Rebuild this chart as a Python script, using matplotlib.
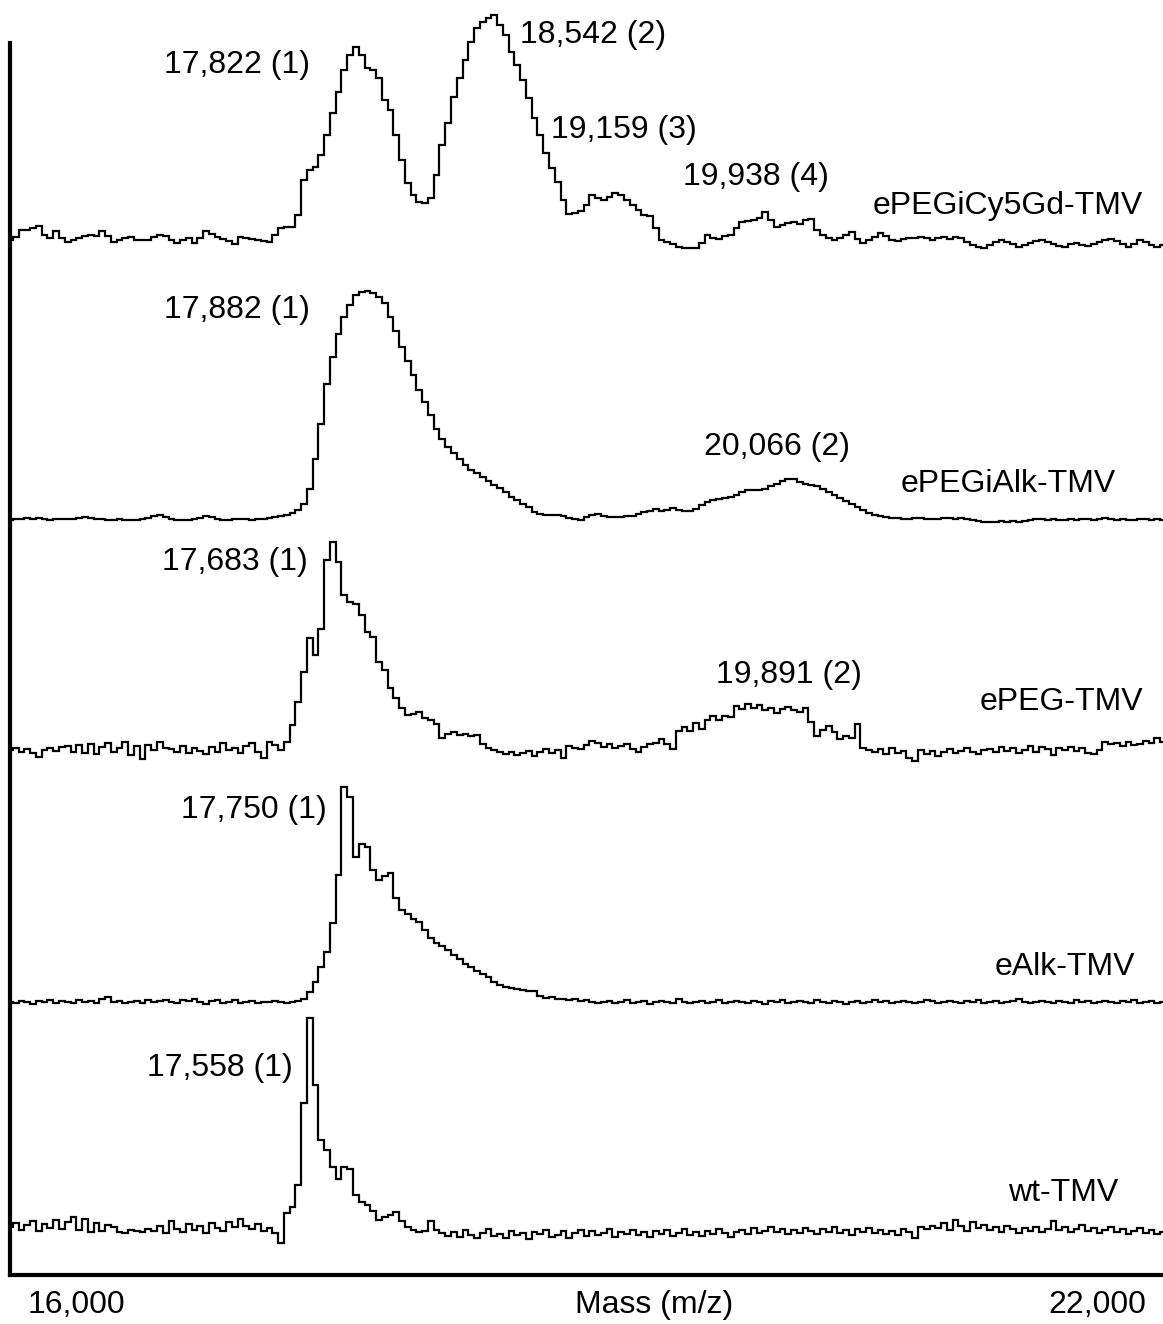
import numpy as np
import matplotlib
matplotlib.use("Agg")
import matplotlib.pyplot as plt

# ---------------- data ----------------
mass_start = 16000
mass_step = 30          # Da between samples
mass_end = 22000

names = ["ePEGiCy5Gd-TMV", "ePEGiAlk-TMV", "ePEG-TMV", "eAlk-TMV", "wt-TMV"]

cy5gd = [0, 3, 10, 10, 12, 14, 5, 2, 9, 2,
         -2, 0, 2, 4, 5, 4, 9, 4, -2, 0,
         2, 3, 0, 0, 0, 3, 5, 4, 0, -3,
         0, 2, -3, 2, 9, 6, 3, 1, -1, -4,
         3, 2, 1, 0, -1, -2, 5, 12, 13, 13,
         25, 60, 70, 73, 85, 105, 127, 148, 170, 185,
         193, 185, 172, 170, 162, 140, 130, 105, 80, 57,
         45, 38, 37, 42, 65, 95, 117, 143, 162, 180,
         198, 212, 218, 222, 225, 215, 205, 188, 175, 160,
         142, 122, 105, 87, 72, 58, 40, 26, 27, 29,
         35, 45, 42, 40, 43, 47, 45, 40, 35, 30,
         25, 24, 12, 0, -2, -4, -7, -8, -8, -8,
         -3, 5, 2, 1, 4, 5, 12, 18, 19, 20,
         22, 28, 20, 13, 15, 17, 18, 16, 20, 21,
         10, 5, 2, 0, 2, 5, 8, 1, -3, 0,
         3, 7, 4, 0, -1, 1, 2, 2, 3, 2,
         0, 2, 3, 1, 3, 2, -2, -5, -7, -8,
         -5, -2, 0, -2, -4, -7, -5, -3, -1, 0,
         -2, -4, -6, -7, -4, -3, -5, -6, -4, -2,
         0, 1, -1, -4, -7, -4, 0, -2, -5, -7,
         -5]

pegialk = [-1, 0, 0, 1, 0, 1, 0, -1, 0, 0,
           0, 0, 1, 2, 1, 0, 0, -1, -1, 0,
           -1, -1, -1, 0, 1, 3, 4, 2, 0, -1,
           -1, -1, 0, 1, 3, 2, 0, -1, -1, 0,
           0, 0, -1, 0, 0, 1, 2, 3, 4, 6,
           9, 15, 30, 60, 95, 135, 162, 185, 202, 214,
           224, 227, 228, 226, 222, 216, 202, 188, 172, 158,
           144, 129, 117, 104, 90, 80, 72, 66, 60, 54,
           49, 46, 42, 38, 34, 31, 27, 22, 19, 15,
           12, 7, 5, 4, 4, 4, 3, 1, 0, -1,
           2, 4, 5, 3, 2, 2, 2, 3, 3, 5,
           7, 8, 10, 8, 9, 11, 9, 8, 8, 10,
           14, 17, 19, 20, 21, 22, 24, 27, 29, 29,
           29, 30, 33, 35, 38, 40, 40, 37, 35, 34,
           33, 30, 27, 24, 21, 18, 15, 12, 9, 6,
           4, 3, 2, 1, 1, 0, 0, 1, 1, 0,
           0, 0, 1, 1, 0, 1, 0, -1, -2, -3,
           -3, -3, -2, -3, -2, -3, -2, -1, 0, 0,
           -1, 0, -1, -1, 0, -1, 0, 0, -1, 0,
           1, 0, -1, 0, -1, -1, 0, 0, -1, 0,
           -1]

peg = [0, 2, -2, 1, -3, -7, 0, 2, -1, 3,
       4, -2, 5, -3, 6, -4, 3, 7, -2, 2,
       8, -5, 4, -9, 5, 0, 8, 2, 1, -2,
       4, -3, 2, -1, -4, 3, -2, 7, 0, 2,
       -3, 4, 7, -2, -8, 8, 5, 0, 8, 25,
       48, 78, 112, 95, 121, 190, 208, 188, 155, 148,
       146, 135, 118, 113, 88, 80, 62, 52, 42, 35,
       36, 38, 32, 30, 26, 12, 16, 18, 15, 16,
       14, 15, 6, 2, 0, -2, -4, -2, -5, -3,
       -1, -6, -2, 1, -3, 0, -8, 4, 2, 1,
       5, 9, 7, 3, 6, 2, 4, 6, 1, -2,
       3, 6, 7, 11, 6, 1, 19, 23, 19, 27,
       21, 30, 34, 30, 34, 33, 44, 41, 46, 42,
       45, 40, 42, 37, 41, 43, 40, 38, 42, 28,
       14, 20, 24, 18, 11, 14, 12, 26, 2, 0,
       -2, 1, -4, 2, -3, -1, -8, -11, 0, -4,
       -1, -6, -2, 1, -3, -1, 2, -2, -4, 0,
       1, -2, 3, -1, 2, -3, 0, 4, -2, 3,
       1, -5, 2, 0, 3, -1, 2, -3, -4, 0,
       8, 6, 7, 4, 8, 5, 6, 9, 7, 12,
       8]

alk = [0, -1, 1, 0, -2, 1, 0, 2, -1, 1,
       0, -1, 2, 0, 1, -1, 3, 5, 0, 1,
       -1, 0, 1, -1, 2, 0, 1, 2, 0, -1,
       2, 1, 3, 0, -2, 1, 2, -1, 0, 2,
       -1, 0, 1, -1, 0, 0, 1, 0, -1, 0,
       1, 3,
       10, 20, 35, 50, 79, 127, 215, 205, 145, 158,
       155, 132, 122, 126, 129, 104, 92, 88, 83, 80,
       72, 64, 59, 56, 52, 47, 43, 38, 35, 31,
       28, 25, 20, 17, 15, 14, 13, 12, 11, 11,
       6, 4, 5, 3, 3, 2, 3, 1, 2, 0,
       -1, 0, 1, -1, 0, 2, -1, 0, 1, -2,
       0, 1, 0, -1, 3, 0, -1, 0, 1, -1,
       0, 2, -1, 0, 1, 0, -1, 1, 0, -2,
       1, 0, 2, -1, 0, 1, 0, -1, 2, 0,
       -1, 1, 0, -2, 0, 1, -1, 0, 2, 0,
       1, -1, 0, 1, 0, -1, 0, 2, 1, -1,
       0, 1, 0, -1, 1, 0, 2, -1, 0, 1,
       -1, 0, 1, 3, 0, -1, 0, 1, 0, -1,
       1, 0, -1, 2, 0, 1, -1, 0, 1, 0,
       -1, 1, 0, 2, -1, 0, 1, -1, 0]

wt = [8, 12, 5, 10, 14, 4, 11, 7, 15, 6,
      13, 18, 5, 16, 3, 12, 4, 10, 8, 3,
      2, 5, 4, 3, 6, 4, 9, 2, 14, 6,
      3, 11, 5, 9, 2, 12, 7, 4, 13, 8,
      16, 9, 6, 11, 4, 7, 2, -8, 22, 28,
      50, 132, 217, 150, 95, 85, 68, 56, 68, 66,
      40, 33, 30, 24, 15, 18, 20, 23, 14, 8,
      5, 3, 4, 14, 5, 2, -1, 3, -2, 5,
      0, -3, 2, 6, -1, 1, -3, 4, 0, 2,
      -4, 3, 1, 5, -2, 0, 4, -3, 2, 5,
      -1, 4, 0, 2, 6, -2, 3, 1, 5, 0,
      3, -2, 4, 1, 5, -1, 2, 6, 0, 3,
      -1, 4, 1, 6, 2, -2, 3, 5, 1, 7,
      2, 4, 8, 3, 6, 1, 5, 2, 7, 4,
      1, 6, 3, 8, 2, 5, 0, 6, 3, 7,
      2, 5, 1, 4, 0, 6, 3, -3, 8, 6,
      9, 7, 12, 5, 15, 9, 4, 13, 7, 10,
      5, 8, 3, 9, 6, 2, 7, 4, 8, 3,
      6, 14, 5, 8, 3, 6, 10, 4, 7, 2,
      5, 8, 3, 6, 1, 4, 7, 2, 5, 1,
      3]

peak_labels = [
    ["17,822 (1)", "18,542 (2)", "19,159 (3)", "19,938 (4)"],
    ["17,882 (1)", "20,066 (2)"],
    ["17,683 (1)", "19,891 (2)"],
    ["17,750 (1)"],
    ["17,558 (1)"],
]
axis_left_label = "16,000"
axis_right_label = "22,000"
axis_title = "Mass (m/z)"

# ---------------- layout (pixel-based) ----------------
W, H = 1163, 1324
ax_left_px, ax_right_px = 10, 1163
ax_bottom_px, ax_top_px = 1275, 43
baselines_px = [240, 519, 750, 1002, 1235]
# label centres in pixel coordinates
label_pos_px = [
    [(237, 65), (593, 35), (624, 130), (756, 177)],
    [(237, 310), (777, 447)],
    [(235, 562), (789, 675)],
    [(254, 810)],
    [(220, 1068)],
]
name_pos_px = [(1008, 206), (1008, 484), (1061, 702), (1065, 967), (1063, 1193)]
bottom_label_px = [(76, 1305), (654, 1305), (1097, 1305)]

def px_to_data(px, py):
    m = mass_start + (px - ax_left_px) * (mass_end - mass_start) / (ax_right_px - ax_left_px)
    return m, ax_bottom_px - py

plt.rcParams['font.family'] = ['Liberation Sans', 'DejaVu Sans']
fig = plt.figure(figsize=(W / 100, H / 100), dpi=100)
ax = fig.add_axes([ax_left_px / W, (H - ax_bottom_px) / H,
                   (ax_right_px - ax_left_px) / W, (ax_bottom_px - ax_top_px) / H])
ax.set_xlim(mass_start, mass_end)
ax.set_ylim(0, ax_bottom_px - ax_top_px)

series = [cy5gd, pegialk, peg, alk, wt]
for vals, base_px in zip(series, baselines_px):
    vals = np.asarray(vals, dtype=float)
    masses = mass_start + mass_step * np.arange(len(vals))
    ax.plot(masses, vals + (ax_bottom_px - base_px), drawstyle='steps-mid',
            color='black', lw=1.6, solid_joinstyle='miter', clip_on=False)

fs = 23
for labs, poss in zip(peak_labels, label_pos_px):
    for lab, (px, py) in zip(labs, poss):
        x, y = px_to_data(px, py)
        ax.text(x, y, lab, ha='center', va='center', fontsize=fs, color='black')
for nm, (px, py) in zip(names, name_pos_px):
    x, y = px_to_data(px, py)
    ax.text(x, y, nm, ha='center', va='center', fontsize=fs, color='black')

for lab, (px, py) in zip([axis_left_label, axis_title, axis_right_label], bottom_label_px):
    fig.text(px / W, 1 - py / H, lab, ha='center', va='center', fontsize=fs, color='black')

for s in ['top', 'right']:
    ax.spines[s].set_visible(False)
for s in ['left', 'bottom']:
    ax.spines[s].set_linewidth(3)
ax.set_xticks([])
ax.set_yticks([])
ax.patch.set_alpha(0)

fig.savefig("out.png", dpi=100)
